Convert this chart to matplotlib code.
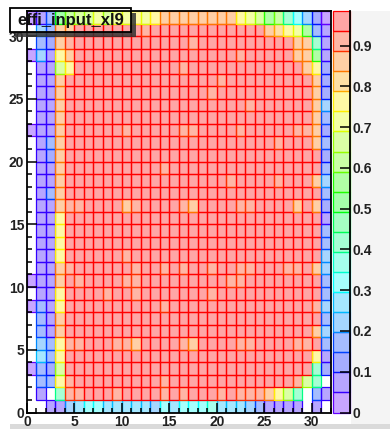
import colorsys
import matplotlib
matplotlib.use("Agg")
import matplotlib.pyplot as plt
import numpy as np
from matplotlib.colors import ListedColormap, BoundaryNorm
from matplotlib.patches import Rectangle
from matplotlib.ticker import MultipleLocator

title = "effi_input_xl9"
n_bins = 32
z_max = 0.985
n_contours = 20
x_ticks = [0, 5, 10, 15, 20, 25, 30]
y_ticks = [0, 5, 10, 15, 20, 25, 30]
z_ticks = [0, 0.1, 0.2, 0.3, 0.4, 0.5, 0.6, 0.7, 0.8, 0.9]
z_tick_labels = ["0", "0.1", "0.2", "0.3", "0.4", "0.5", "0.6", "0.7", "0.8", "0.9"]

# efficiency per bin, listed from the top y bin (31) down to y bin 0
effi_rows = [
    [0.02, 0.07, 0.17, 0.52, 0.61, 0.66, 0.66, 0.71,
     0.66, 0.71, 0.71, 0.76, 0.71, 0.76, 0.86, 0.86,
     0.86, 0.86, 0.86, 0.86, 0.86, 0.86, 0.76, 0.71,
     0.66, 0.56, 0.61, 0.42, 0.32, 0.22, 0.12, 0.02],
    [0, 0.22, 0.17, 0.86, 0.86, 0.96, 0.96, 0.96,
     0.96, 0.96, 0.96, 0.96, 0.91, 0.96, 0.96, 0.96,
     0.96, 0.96, 0.96, 0.96, 0.96, 0.96, 0.96, 0.96,
     0.96, 0.86, 0.81, 0.76, 0.71, 0.56, 0.17, 0.07],
    [0, 0.17, 0.12, 0.86, 0.91, 0.96, 0.96, 0.96,
     0.96, 0.96, 0.96, 0.96, 0.96, 0.96, 0.96, 0.96,
     0.96, 0.91, 0.96, 0.96, 0.96, 0.96, 0.96, 0.96,
     0.96, 0.96, 0.96, 0.96, 0.86, 0.86, 0.42, 0.07],
    [0.02, 0.22, 0.07, 0.76, 0.86, 0.96, 0.96, 0.96,
     0.96, 0.96, 0.96, 0.96, 0.96, 0.96, 0.96, 0.96,
     0.96, 0.96, 0.96, 0.96, 0.96, 0.96, 0.91, 0.96,
     0.96, 0.96, 0.96, 0.96, 0.86, 0.86, 0.56, 0.07],
    [0, 0.07, 0.07, 0.66, 0.76, 0.96, 0.96, 0.96,
     0.96, 0.96, 0.96, 0.96, 0.96, 0.96, 0.96, 0.96,
     0.91, 0.96, 0.96, 0.96, 0.96, 0.96, 0.96, 0.96,
     0.96, 0.96, 0.96, 0.96, 0.96, 0.86, 0.76, 0.12],
    [0, 0.07, 0.07, 0.86, 0.96, 0.96, 0.96, 0.96,
     0.96, 0.96, 0.96, 0.96, 0.96, 0.96, 0.96, 0.96,
     0.96, 0.96, 0.96, 0.96, 0.91, 0.96, 0.96, 0.96,
     0.96, 0.96, 0.96, 0.96, 0.96, 0.96, 0.86, 0.12],
    [0, 0.07, 0.07, 0.86, 0.96, 0.96, 0.96, 0.96,
     0.96, 0.96, 0.96, 0.96, 0.96, 0.96, 0.96, 0.96,
     0.96, 0.96, 0.96, 0.91, 0.96, 0.96, 0.96, 0.96,
     0.96, 0.96, 0.96, 0.96, 0.96, 0.96, 0.86, 0.12],
    [0, 0.07, 0.07, 0.86, 0.96, 0.96, 0.96, 0.96,
     0.96, 0.96, 0.96, 0.96, 0.96, 0.96, 0.96, 0.96,
     0.96, 0.96, 0.96, 0.96, 0.96, 0.96, 0.96, 0.91,
     0.96, 0.96, 0.96, 0.96, 0.96, 0.96, 0.86, 0.22],
    [0, 0.07, 0.07, 0.86, 0.96, 0.96, 0.96, 0.96,
     0.96, 0.96, 0.96, 0.96, 0.96, 0.96, 0.96, 0.96,
     0.96, 0.96, 0.96, 0.96, 0.96, 0.96, 0.96, 0.96,
     0.96, 0.96, 0.96, 0.96, 0.96, 0.96, 0.86, 0.17],
    [0.02, 0.07, 0.07, 0.86, 0.96, 0.96, 0.96, 0.96,
     0.96, 0.96, 0.91, 0.96, 0.96, 0.96, 0.96, 0.96,
     0.91, 0.91, 0.96, 0.96, 0.96, 0.96, 0.91, 0.96,
     0.96, 0.96, 0.96, 0.96, 0.91, 0.91, 0.86, 0.12],
    [0, 0.07, 0.17, 0.86, 0.96, 0.96, 0.96, 0.96,
     0.96, 0.96, 0.96, 0.96, 0.96, 0.96, 0.96, 0.96,
     0.96, 0.96, 0.96, 0.96, 0.96, 0.96, 0.96, 0.96,
     0.96, 0.96, 0.91, 0.96, 0.96, 0.96, 0.86, 0.17],
    [0, 0.07, 0.12, 0.86, 0.96, 0.96, 0.96, 0.96,
     0.96, 0.96, 0.96, 0.96, 0.96, 0.96, 0.96, 0.96,
     0.96, 0.96, 0.96, 0.96, 0.96, 0.96, 0.96, 0.96,
     0.96, 0.96, 0.96, 0.96, 0.96, 0.96, 0.96, 0.12],
    [0, 0.07, 0.07, 0.86, 0.96, 0.96, 0.96, 0.96,
     0.96, 0.96, 0.96, 0.96, 0.96, 0.96, 0.91, 0.96,
     0.96, 0.96, 0.96, 0.96, 0.96, 0.96, 0.96, 0.96,
     0.96, 0.96, 0.96, 0.96, 0.96, 0.96, 0.96, 0.17],
    [0, 0.07, 0.07, 0.86, 0.96, 0.96, 0.96, 0.96,
     0.96, 0.96, 0.96, 0.96, 0.96, 0.96, 0.96, 0.96,
     0.96, 0.96, 0.96, 0.96, 0.96, 0.91, 0.96, 0.96,
     0.96, 0.96, 0.91, 0.96, 0.96, 0.96, 0.86, 0.22],
    [0, 0.07, 0.17, 0.86, 0.96, 0.96, 0.96, 0.96,
     0.96, 0.96, 0.96, 0.96, 0.96, 0.96, 0.96, 0.96,
     0.96, 0.96, 0.96, 0.96, 0.96, 0.96, 0.96, 0.96,
     0.96, 0.96, 0.96, 0.96, 0.96, 0.96, 0.96, 0.17],
    [0, 0.07, 0.07, 0.86, 0.91, 0.91, 0.96, 0.96,
     0.96, 0.96, 0.86, 0.91, 0.96, 0.96, 0.96, 0.96,
     0.91, 0.86, 0.96, 0.96, 0.96, 0.96, 0.91, 0.91,
     0.96, 0.96, 0.96, 0.96, 0.86, 0.96, 0.86, 0.12],
    [0, 0.07, 0.07, 0.76, 0.96, 0.96, 0.96, 0.96,
     0.96, 0.96, 0.96, 0.96, 0.96, 0.96, 0.96, 0.96,
     0.96, 0.96, 0.96, 0.96, 0.96, 0.96, 0.96, 0.96,
     0.96, 0.96, 0.96, 0.96, 0.96, 0.96, 0.96, 0.07],
    [0, 0.07, 0.07, 0.76, 0.96, 0.96, 0.96, 0.96,
     0.96, 0.96, 0.96, 0.96, 0.96, 0.96, 0.96, 0.96,
     0.96, 0.96, 0.96, 0.96, 0.96, 0.96, 0.96, 0.96,
     0.96, 0.96, 0.96, 0.96, 0.96, 0.96, 0.96, 0.17],
    [0, 0.07, 0.07, 0.76, 0.96, 0.96, 0.96, 0.96,
     0.96, 0.96, 0.96, 0.96, 0.96, 0.96, 0.96, 0.96,
     0.96, 0.96, 0.96, 0.96, 0.96, 0.96, 0.96, 0.96,
     0.96, 0.96, 0.96, 0.96, 0.96, 0.96, 0.96, 0.17],
    [0, 0.07, 0.07, 0.76, 0.96, 0.96, 0.96, 0.96,
     0.96, 0.96, 0.91, 0.96, 0.96, 0.96, 0.96, 0.96,
     0.96, 0.96, 0.96, 0.96, 0.96, 0.96, 0.96, 0.96,
     0.96, 0.96, 0.96, 0.96, 0.96, 0.96, 0.96, 0.22],
    [0, 0.07, 0.07, 0.86, 0.91, 0.96, 0.96, 0.96,
     0.96, 0.96, 0.96, 0.91, 0.96, 0.96, 0.91, 0.96,
     0.91, 0.96, 0.96, 0.91, 0.96, 0.96, 0.91, 0.91,
     0.96, 0.96, 0.96, 0.91, 0.91, 0.96, 0.86, 0.22],
    [0.02, 0.07, 0.07, 0.86, 0.96, 0.91, 0.96, 0.96,
     0.96, 0.96, 0.91, 0.91, 0.96, 0.96, 0.96, 0.96,
     0.96, 0.96, 0.96, 0.96, 0.96, 0.91, 0.91, 0.96,
     0.96, 0.96, 0.96, 0.96, 0.96, 0.96, 0.96, 0.17],
    [0, 0.07, 0.07, 0.76, 0.96, 0.96, 0.96, 0.96,
     0.91, 0.96, 0.96, 0.91, 0.96, 0.96, 0.96, 0.96,
     0.96, 0.96, 0.96, 0.91, 0.96, 0.96, 0.96, 0.96,
     0.96, 0.96, 0.96, 0.96, 0.96, 0.96, 0.96, 0.17],
    [0.02, 0.17, 0.07, 0.76, 0.96, 0.96, 0.96, 0.96,
     0.96, 0.96, 0.96, 0.96, 0.96, 0.96, 0.91, 0.96,
     0.96, 0.96, 0.96, 0.96, 0.96, 0.96, 0.96, 0.96,
     0.96, 0.96, 0.96, 0.96, 0.96, 0.96, 0.91, 0.22],
    [0, 0.17, 0.07, 0.86, 0.96, 0.96, 0.96, 0.96,
     0.96, 0.96, 0.96, 0.96, 0.96, 0.96, 0.96, 0.96,
     0.96, 0.96, 0.96, 0.96, 0.96, 0.96, 0.96, 0.96,
     0.96, 0.96, 0.96, 0.96, 0.96, 0.96, 0.96, 0.17],
    [0, 0.17, 0.07, 0.86, 0.96, 0.96, 0.96, 0.96,
     0.96, 0.96, 0.96, 0.96, 0.96, 0.96, 0.96, 0.96,
     0.96, 0.96, 0.96, 0.96, 0.96, 0.96, 0.96, 0.96,
     0.96, 0.96, 0.96, 0.96, 0.96, 0.96, 0.86, 0.22],
    [0, 0.22, 0.17, 0.76, 0.91, 0.91, 0.96, 0.96,
     0.96, 0.91, 0.91, 0.86, 0.96, 0.96, 0.96, 0.96,
     0.91, 0.86, 0.96, 0.96, 0.96, 0.96, 0.91, 0.91,
     0.96, 0.96, 0.96, 0.96, 0.91, 0.91, 0.96, 0.17],
    [0, 0.27, 0.17, 0.76, 0.96, 0.96, 0.96, 0.96,
     0.96, 0.96, 0.96, 0.96, 0.96, 0.96, 0.96, 0.96,
     0.96, 0.96, 0.96, 0.96, 0.96, 0.96, 0.96, 0.96,
     0.96, 0.96, 0.96, 0.96, 0.96, 0.96, 0.76, 0.07],
    [0.02, 0.17, 0.12, 0.66, 0.96, 0.96, 0.96, 0.96,
     0.96, 0.96, 0.96, 0.96, 0.96, 0.96, 0.96, 0.96,
     0.96, 0.96, 0.96, 0.96, 0.96, 0.96, 0.96, 0.96,
     0.96, 0.96, 0.96, 0.96, 0.96, 0.96, 0.42, 0.12],
    [0, 0.17, 0.17, 0.76, 0.91, 0.96, 0.96, 0.96,
     0.96, 0.96, 0.96, 0.96, 0.96, 0.96, 0.91, 0.96,
     0.96, 0.96, 0.96, 0.96, 0.96, 0.96, 0.96, 0.96,
     0.96, 0.96, 0.96, 0.96, 0.91, 0.66, 0.42, 0],
    [0, 0.07, 0, 0.42, 0.91, 0.91, 0.96, 0.96,
     0.96, 0.91, 0.96, 0.96, 0.96, 0.96, 0.91, 0.96,
     0.91, 0.96, 0.96, 0.96, 0.91, 0.96, 0.91, 0.91,
     0.91, 0.86, 0.76, 0.66, 0.42, 0, 0.17, 0.07],
    [0, 0, 0.07, 0.07, 0.22, 0.27, 0.32, 0.32,
     0.27, 0.27, 0.27, 0.27, 0.27, 0.22, 0.32, 0.27,
     0.32, 0.32, 0.32, 0.37, 0.27, 0.27, 0.27, 0.22,
     0.17, 0.07, 0.07, 0.07, 0.07, 0, 0.07, 0],
]

effi = np.array(effi_rows)[::-1]

# ROOT "pretty" palette (colours 51-100), one colour picked per contour
pretty = [colorsys.hls_to_rgb((280 - (i + 1) * 280 / 50) / 360, 0.5, 1.0) for i in range(50)]
level_colors = [pretty[int((k + 0.99) * 50 / n_contours)] for k in range(n_contours)]
levels = np.linspace(0, z_max, n_contours + 1)
cmap = ListedColormap(level_colors)
norm = BoundaryNorm(levels, cmap.N)

fill_alpha = 0.35
edge_lw = 0.9
label_font = dict(family="Liberation Sans", weight="bold", size=10, color="#222222")

W, H = 390, 429
fig = plt.figure(figsize=(W / 100, H / 100), dpi=100)
fig.patch.set_facecolor("white")


def fig_box(x0, y0, x1, y1):
    # pixel box (top-left origin) -> figure fraction rect
    return [x0 / W, 1 - y1 / H, (x1 - x0) / W, (y1 - y0) / H]


def fig_rect(x0, y0, x1, y1, **kw):
    l, b, w, h = fig_box(x0, y0, x1, y1)
    return Rectangle((l, b), w, h, transform=fig.transFigure, **kw)


# light panel behind the palette labels and the bevel at the bottom
fig.add_artist(fig_rect(351, 11, 390, 424, facecolor="#f4f4f4", edgecolor="none", zorder=0))
fig.add_artist(fig_rect(10, 424, 390, 429, facecolor="#dadada", edgecolor="none", zorder=0))

ax = fig.add_axes(fig_box(27, 11, 330.5, 412.5))
ax.set_facecolor("none")
ax.set_xlim(0, n_bins)
ax.set_ylim(0, n_bins)

for j in range(n_bins):
    for i in range(n_bins):
        v = effi[j, i]
        if v <= 0:
            continue
        c = cmap(norm(v))
        ax.add_patch(Rectangle((i, j), 1, 1, facecolor=(c[0], c[1], c[2], fill_alpha),
                               edgecolor=c, lw=edge_lw, zorder=1))

ax.set_xticks(x_ticks)
ax.set_yticks(y_ticks)
ax.xaxis.set_minor_locator(MultipleLocator(1))
ax.yaxis.set_minor_locator(MultipleLocator(1))
ax.tick_params(which="major", direction="in", length=7, width=1.1, top=False, right=False)
ax.tick_params(which="minor", direction="in", length=3.5, width=1.1, top=False, right=False)
ax.tick_params(axis="x", pad=2)
ax.tick_params(axis="y", pad=2)
for lab in ax.get_xticklabels() + ax.get_yticklabels():
    lab.set(**label_font)
for sp in ax.spines.values():
    sp.set_linewidth(1.3)
    sp.set_zorder(3)

# palette axis
cax = fig.add_axes(fig_box(333, 11, 350, 412.5))
cax.set_xlim(0, 1)
cax.set_ylim(0, z_max)
for k in range(n_contours):
    c = level_colors[k]
    cax.add_patch(Rectangle((0, levels[k]), 1, levels[k + 1] - levels[k],
                            facecolor=(c[0], c[1], c[2], fill_alpha), edgecolor=c,
                            lw=edge_lw, clip_on=False))
for side in ["left", "top", "bottom"]:
    cax.spines[side].set_visible(False)
cax.spines["right"].set_linewidth(1.3)
cax.set_xticks([])
cax.yaxis.tick_right()
cax.set_yticks(z_ticks)
cax.set_yticklabels(z_tick_labels)
cax.tick_params(axis="y", direction="in", length=7, width=1.1, pad=1.5)
for lab in cax.get_yticklabels():
    lab.set(**label_font)
cax.set_facecolor("none")

# title box with drop shadow
bx0, by0, bx1, by1, sh = 10, 8, 131, 32, 5
fig.add_artist(fig_rect(bx0 + sh, by1, bx1 + sh, by1 + sh, facecolor="#333333",
                        edgecolor="none", alpha=0.85, zorder=10))
fig.add_artist(fig_rect(bx1, by0 + sh, bx1 + sh, by1, facecolor="#333333",
                        edgecolor="none", alpha=0.85, zorder=10))
fig.add_artist(fig_rect(bx0, by0, bx1, by1, facecolor="none", edgecolor="black",
                        lw=1.3, zorder=11))
fig.text((bx0 + bx1) / 2 / W, 1 - (by0 + by1) / 2 / H, title, ha="center", va="center",
         family="Liberation Sans", weight="bold", size=12, color="#111111", zorder=12)

fig.savefig("out.png", dpi=100)
